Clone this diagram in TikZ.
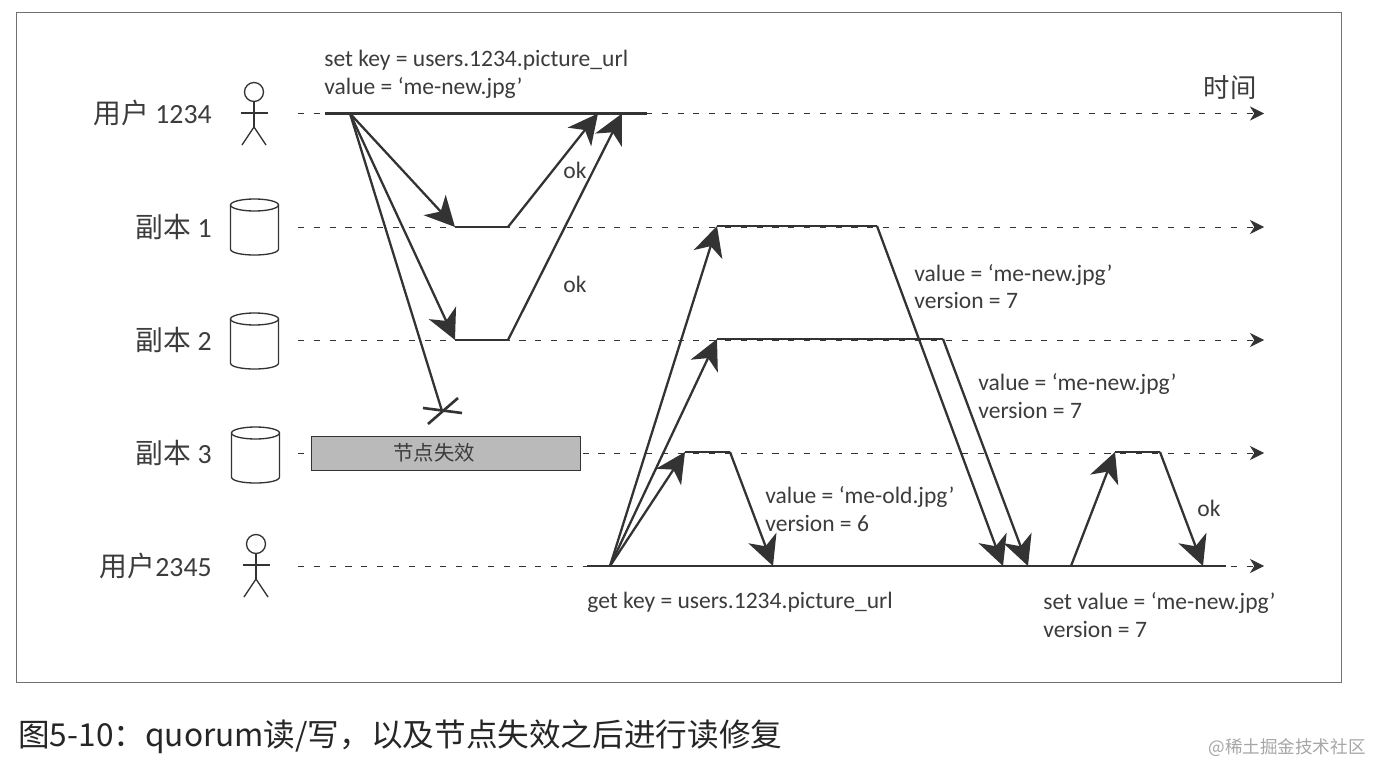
\documentclass[tikz,border=0pt]{standalone}
\usepackage{fontspec}
\usetikzlibrary{arrows.meta}
\setmainfont{Carlito}
\newfontfamily\cjk{Noto Sans CJK SC}
\definecolor{ink}{HTML}{333333}
\definecolor{txt}{HTML}{3C3C3C}
\newcommand{\stick}[2]{\draw[fig] (#1,#2-21) circle (9.5);
	\draw[fig] (#1,#2-11) -- (#1,#2+14) (#1-13.5,#2) -- (#1+13.5,#2);
	\draw[fig] (#1-12,#2+32) -- (#1,#2+14) -- (#1+12,#2+32)}
\newcommand{\disk}[2]{\draw[fig,fill=white] (#1-24,#2-22) -- (#1-24,#2+22) .. controls (#1-24,#2+30) and (#1+24,#2+30) .. (#1+24,#2+22) -- (#1+24,#2-22);
	\draw[fig,fill=white] (#1,#2-22) ellipse (24 and 6)}
\tikzset{
	fig/.style={draw=ink,line width=0.75pt},
	clock/.style={draw=ink,line width=0.5pt,dash pattern=on 3.5pt off 5.5pt,-{Stealth[length=8pt,width=8pt,inset=2.5pt]}},
	busy/.style={draw=ink,line width=1.5pt},
	msg/.style={draw=ink,line width=1.3pt,-{Stealth[length=17pt,width=17pt,inset=5pt]}},
	note/.style={anchor=west,align=left,inner sep=0pt,text=txt,font=\fontsize{13.4}{15.8}\selectfont},
	who/.style={anchor=east,inner sep=0pt,text=txt,font=\fontsize{15.8}{18}\selectfont},
}

\begin{document}
\begin{tikzpicture}[x=0.02cm,y=-0.02cm]
\useasboundingbox (0,0) rectangle (1374,764);
\fill[white] (0,0) rectangle (1374,764);
\node[draw=ink!70,line width=0.6pt,minimum width=26.52cm,minimum height=13.42cm,inner sep=0pt] (frame) at (679,347.5) {};
%
\node[who] (u1) at (212,113) {{\cjk 用户} 1234};
\node[who] (r1) at (212,227) {{\cjk 副本} 1};
\node[who] (r2) at (212,340) {{\cjk 副本} 2};
\node[who] (r3) at (212,453) {{\cjk 副本} 3};
\node[who] (u2) at (212,566) {{\cjk 用户}2345};
\stick{254}{113};
\stick{256}{565};
\disk{254.5}{227};
\disk{254.5}{341};
\disk{255.5}{455};
%
\foreach \n/\y in {a/113.5,b/227,c/340,d/453,e/566}{
	\coordinate (\n0) at (298,\y);
	\coordinate (\n9) at (1264,\y);
	\draw[clock] (\n0) -- (\n9);
}
\node[draw=ink,fill=black!27,minimum width=269*0.02cm,minimum height=34*0.02cm,inner sep=0pt] (down) at (445.5,453) {};
\node[inner sep=0pt,text=txt,font=\cjk\fontsize{11.6}{14}\selectfont] (downtext) at (434,453) {节点失效};
%
\coordinate (w1) at (325,113.5);
\coordinate (w2) at (647,113.5);
\coordinate (w0) at (350,113.5);
\coordinate (ack1) at (598,113.5);
\coordinate (ack2) at (622,113.5);
\coordinate (p1) at (455,227);
\coordinate (q1) at (508,227);
\coordinate (p2) at (455,340);
\coordinate (q2) at (508,340);
\coordinate (lost) at (442,411);
\coordinate (k1) at (423,408);
\coordinate (k2) at (462,413);
\coordinate (k3) at (428,424);
\coordinate (k4) at (458,398);
\draw[busy] (w1) -- (w2);
\draw[busy] (p1) -- (q1);
\draw[busy] (p2) -- (q2);
\draw[msg] (w0) -- (p1);
\draw[msg] (w0) -- (p2);
\draw[busy,line width=1.3pt] (w0) -- (lost);
\draw[busy] (k1) -- (k2);
\draw[busy] (k3) -- (k4);
\draw[msg] (q1) -- (ack1);
\draw[msg] (q2) -- (ack2);
%
\coordinate (g1) at (587,566);
\coordinate (g2) at (1226,566);
\coordinate (g0) at (610,566);
\coordinate (s1) at (717,226);
\coordinate (t1) at (877,226);
\coordinate (s2) at (717,339);
\coordinate (t2) at (943,339);
\coordinate (s3) at (685,452);
\coordinate (t3) at (730,452);
\coordinate (back1) at (1003,566);
\coordinate (back2) at (1028,566);
\coordinate (back3) at (773,566);
\coordinate (h0) at (1071,566);
\coordinate (h1) at (1115,452);
\coordinate (h2) at (1160,452);
\coordinate (h3) at (1203,566);
\draw[busy] (g1) -- (g2);
\draw[busy] (s1) -- (t1);
\draw[busy] (s2) -- (t2);
\draw[busy] (s3) -- (t3);
\draw[busy] (h1) -- (h2);
\draw[msg] (g0) -- (s1);
\draw[msg] (g0) -- (s2);
\draw[msg] (g0) -- (s3);
\draw[msg] (t1) -- (back1);
\draw[msg] (t2) -- (back2);
\draw[msg] (t3) -- (back3);
\draw[msg] (h0) -- (h1);
\draw[msg] (h2) -- (h3);
%
\node[note] (wreq) at (324,74) {set key = users.1234.picture\_url\\value = ‘me-new.jpg’};
\node[note] (ok1) at (563,170) {ok};
\node[note] (ok2) at (563,284) {ok};
\node[note] (ok3) at (1197,508) {ok};
\node[note] (rep1) at (914,286.5) {value = ‘me-new.jpg’\\version = 7};
\node[note] (rep2) at (978,396) {value = ‘me-new.jpg’\\version = 7};
\node[note] (rep3) at (765,509) {value = ‘me-old.jpg’\\version = 6};
\node[note] (get) at (587,602) {get key = users.1234.picture\_url};
\node[note] (fix) at (1043,615) {set value = ‘me-new.jpg’\\version = 7};
\node[who,font=\cjk\fontsize{15}{18}\selectfont] (axis) at (1257,88) {时间};
%
\node[anchor=west,inner sep=0pt,text=black!85,font=\cjk\fontsize{18}{22}\selectfont] (cap) at (18,737) {图5-10：quorum读/写，以及节点失效之后进行读修复};
\node[anchor=east,inner sep=0pt,text=black!35,font=\cjk\fontsize{10}{12}\selectfont] (mark) at (1366,748) {@稀土掘金技术社区};
\end{tikzpicture}
\end{document}
